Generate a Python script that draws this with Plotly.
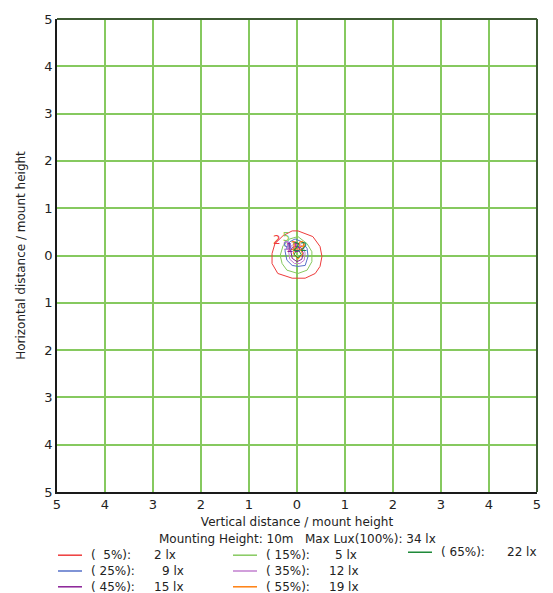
import plotly.graph_objects as go

# ---- data (units of mount height) ----
levels_pct = [5, 15, 25, 35, 45, 55, 65]
levels_lux = [2, 5, 9, 12, 15, 19, 22]
level_colors = ["#ee3b3b", "#86c95f", "#5570c8", "#c27fcf", "#8a1f96", "#ff7f0e", "#1f8a3a"]

c5_x = [0.02, 0.33, 0.48, 0.52, 0.48, 0.38, 0.17, -0.10, -0.40, -0.52, -0.52, -0.46, -0.29, -0.10, 0.02]
c5_y = [0.52, 0.40, 0.19, -0.02, -0.23, -0.38, -0.48, -0.48, -0.38, -0.17, 0.04, 0.25, 0.42, 0.52, 0.52]
c15_x = [-0.35, -0.31, -0.21, 0.02, 0.21, 0.31, 0.31, 0.21, 0.02, -0.15, -0.29, -0.35]
c15_y = [0.00, -0.17, -0.31, -0.38, -0.31, -0.13, 0.08, 0.25, 0.40, 0.35, 0.21, 0.00]
c25_x = [-0.25, -0.21, -0.10, 0.02, 0.17, 0.23, 0.21, 0.10, -0.04, -0.15, -0.25]
c25_y = [0.10, -0.10, -0.21, -0.23, -0.21, -0.02, 0.15, 0.29, 0.35, 0.29, 0.10]
c35_x = [-0.18, -0.15, -0.05, 0.06, 0.15, 0.17, 0.12, 0.02, -0.10, -0.18]
c35_y = [0.12, -0.08, -0.17, -0.17, -0.10, 0.05, 0.20, 0.25, 0.22, 0.12]
c45_x = [-0.13, -0.10, 0.00, 0.10, 0.13, 0.08, -0.02, -0.10, -0.13]
c45_y = [0.10, -0.06, -0.13, -0.08, 0.05, 0.17, 0.20, 0.17, 0.10]
c55_x = [-0.08, 0.02, 0.12, 0.06, -0.04, -0.08]
c55_y = [0.05, -0.08, 0.03, 0.14, 0.14, 0.05]
c65_x = [-0.06, 0.02, 0.09, 0.04, -0.03, -0.06]
c65_y = [0.02, -0.05, 0.02, 0.10, 0.08, 0.02]
contours_x = [c5_x, c15_x, c25_x, c35_x, c45_x, c55_x, c65_x]
contours_y = [c5_y, c15_y, c25_y, c35_y, c45_y, c55_y, c65_y]

label_x = [-0.42, -0.22, -0.21, -0.12, -0.07, 0.02, 0.06]
label_y = [0.30, 0.36, 0.18, 0.17, 0.13, 0.17, 0.15]

tick_vals = [-5, -4, -3, -2, -1, 0, 1, 2, 3, 4, 5]
tick_text = ["5", "4", "3", "2", "1", "0", "1", "2", "3", "4", "5"]

mount_height = "10m"
max_lux = 34

# ---- figure ----
W, H = 553, 593
L, R, T, B = 57, 16, 13, 101
font = "DejaVu Sans, Verdana, sans-serif"

def px(xp):
    return (xp - L) / (W - L - R)

def py(yp):
    return (H - B - yp) / (H - T - B)

fig = go.Figure()
for xs, ys, col in zip(contours_x, contours_y, level_colors):
    fig.add_trace(go.Scatter(x=xs, y=ys, mode="lines", line=dict(color=col, width=1),
                             showlegend=False, hoverinfo="skip"))
for lx, ly, lab, col in zip(label_x, label_y, levels_lux, level_colors):
    fig.add_trace(go.Scatter(x=[lx], y=[ly], mode="text", text=[str(lab)],
                             textfont=dict(color=col, size=12, family=font),
                             showlegend=False, hoverinfo="skip"))

axis_common = dict(range=[-5, 5], tickvals=tick_vals, ticktext=tick_text,
                   showgrid=True, gridcolor="#86c95f", gridwidth=1.5,
                   zeroline=True, zerolinecolor="#86c95f", zerolinewidth=1.5,
                   showline=True, linecolor="#1a1a1a", linewidth=1.5,
                   ticks="", tickfont=dict(size=13, color="#222", family=font))

fig.update_xaxes(**axis_common,
                 title=dict(text="Vertical distance / mount height", standoff=6,
                            font=dict(size=12, color="#222", family=font)))
fig.update_yaxes(**axis_common,
                 title=dict(text="Horizontal distance / mount height", standoff=16,
                            font=dict(size=12, color="#222", family=font)))

shapes = [
    dict(type="line", xref="paper", yref="paper", x0=0, x1=1, y0=1, y1=1,
         line=dict(color="#3d5a33", width=2)),
    dict(type="line", xref="paper", yref="paper", x0=1, x1=1, y0=0, y1=1,
         line=dict(color="#3d5a33", width=2)),
]
annotations = [
    dict(xref="paper", yref="paper", x=px(297), y=py(540), xanchor="center", yanchor="middle",
         text=f"Mounting Height: {mount_height}   Max Lux(100%): {max_lux} lx", showarrow=False,
         font=dict(size=12, color="#222", family=font)),
]

# legend layout (pixel positions of each entry)
leg_line_x = [58, 233, 58, 233, 58, 233, 408]
leg_y = [556, 556, 572, 572, 588, 588, 553]
leg_val_x = [152, 333, 160, 327, 152, 327, 505]
for i, (pct, lux, col) in enumerate(zip(levels_pct, levels_lux, level_colors)):
    x0 = leg_line_x[i]
    yv = leg_y[i]
    shapes.append(dict(type="line", xref="paper", yref="paper", x0=px(x0), x1=px(x0 + 24),
                       y0=py(yv), y1=py(yv), line=dict(color=col, width=1.5)))
    pct_txt = f"(&nbsp;&nbsp;{pct}%):" if pct < 10 else f"( {pct}%):"
    annotations.append(dict(xref="paper", yref="paper", x=px(x0 + 31), y=py(yv),
                            xanchor="left", yanchor="middle", text=pct_txt, showarrow=False,
                            font=dict(size=12, color="#222", family=font)))
    annotations.append(dict(xref="paper", yref="paper", x=px(leg_val_x[i]), y=py(yv),
                            xanchor="left", yanchor="middle", text=f"{lux} lx", showarrow=False,
                            font=dict(size=12, color="#222", family=font)))

fig.update_layout(width=W, height=H, margin=dict(l=L, r=R, t=T, b=B),
                  paper_bgcolor="white", plot_bgcolor="white",
                  shapes=shapes, annotations=annotations, showlegend=False,
                  font=dict(family=font))
fig.write_html("out.html", config={"displayModeBar": False},
               post_script="document.body.style.margin='0';document.body.style.padding='0';"
                           "document.documentElement.style.overflow='hidden';")
